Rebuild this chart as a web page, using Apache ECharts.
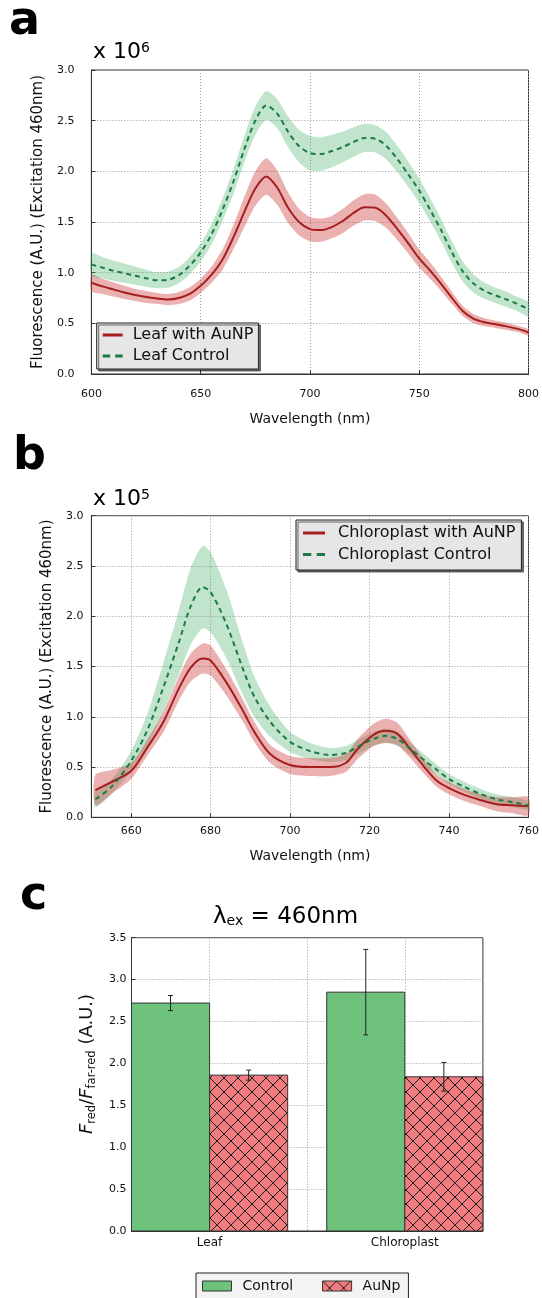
<!DOCTYPE html>
<html><head><meta charset="utf-8">
<script src="https://cdn.jsdelivr.net/npm/echarts@6/dist/echarts.min.js"></script>
<style>html,body{margin:0;padding:0;background:#fff}#c{width:542px;height:1298px}</style>
</head><body><div id="c"></div>
<script>
// ---------- Panel a: leaf spectra (x 10^6) ----------
const waveA = [600,605,610,615,620,625,630,635,640,645,650,655,660,665,670,675,680,685,690,695,700,705,710,715,720,725,730,735,740,745,750,755,760,765,770,775,780,785,790,795,800];
const leafAuNP = [0.90,0.865,0.835,0.805,0.78,0.76,0.745,0.735,0.75,0.79,0.87,0.98,1.13,1.35,1.60,1.83,1.95,1.84,1.64,1.50,1.43,1.42,1.45,1.51,1.59,1.645,1.64,1.56,1.43,1.29,1.14,1.02,0.89,0.75,0.62,0.545,0.51,0.49,0.47,0.445,0.41];
const leafAuNPErr = [0.08,0.075,0.07,0.065,0.06,0.06,0.055,0.055,0.06,0.065,0.07,0.08,0.10,0.12,0.15,0.17,0.18,0.17,0.15,0.13,0.12,0.115,0.11,0.12,0.125,0.13,0.13,0.12,0.11,0.10,0.09,0.08,0.07,0.06,0.05,0.045,0.04,0.035,0.035,0.03,0.03];
const leafCtrl = [1.08,1.05,1.02,0.995,0.97,0.945,0.925,0.93,0.975,1.07,1.20,1.38,1.62,1.90,2.22,2.50,2.65,2.57,2.39,2.25,2.18,2.17,2.20,2.24,2.29,2.33,2.32,2.25,2.12,1.97,1.81,1.62,1.42,1.20,1.01,0.89,0.82,0.775,0.735,0.69,0.64];
const leafCtrlErr = [0.11,0.105,0.10,0.095,0.09,0.085,0.08,0.08,0.08,0.085,0.09,0.10,0.11,0.12,0.13,0.14,0.14,0.145,0.15,0.16,0.17,0.165,0.16,0.15,0.145,0.14,0.135,0.135,0.13,0.125,0.12,0.115,0.11,0.105,0.10,0.09,0.08,0.075,0.075,0.07,0.07];

// ---------- Panel b: chloroplast spectra (x 10^5) ----------
const waveB = [651,655,660,664,668,672,675,678,680,684,688,691,695,700,705,710,714,717,721,724,727,730,734,737,740,744,748,752,756,760];
const chlAuNP = [0.27,0.35,0.46,0.69,0.94,1.28,1.49,1.58,1.56,1.34,1.07,0.85,0.63,0.52,0.50,0.50,0.54,0.68,0.82,0.86,0.83,0.69,0.49,0.36,0.29,0.22,0.17,0.13,0.12,0.11];
const chlAuNPErr = [0.15,0.12,0.08,0.08,0.10,0.12,0.14,0.15,0.15,0.13,0.11,0.10,0.09,0.09,0.09,0.09,0.09,0.10,0.11,0.12,0.11,0.09,0.07,0.06,0.06,0.06,0.06,0.07,0.08,0.09];
const chlCtrl = [0.18,0.30,0.56,0.86,1.28,1.74,2.10,2.29,2.24,1.92,1.49,1.20,0.95,0.75,0.66,0.62,0.64,0.70,0.78,0.81,0.78,0.69,0.56,0.47,0.38,0.30,0.23,0.18,0.15,0.12];
const chlCtrlErr = [0.08,0.07,0.10,0.16,0.24,0.32,0.38,0.41,0.40,0.34,0.26,0.20,0.15,0.10,0.08,0.07,0.07,0.07,0.07,0.07,0.07,0.06,0.06,0.05,0.05,0.05,0.05,0.05,0.05,0.04];

// ---------- Panel c: ratio bars ----------
const categories = ['Leaf', 'Chloroplast'];
const controlVals = [2.72, 2.85];
const controlErr = [0.09, 0.51];
const aunpVals = [1.86, 1.84];
const aunpErr = [0.06, 0.17];

const ticksB_x = [660, 680, 700, 720, 740, 760];
const ticksC_x = [0, 0.5, 1];

// ---------- styles ----------
const FONT = 'DejaVu Sans';
const RED = '#a61e1e', RED_FILL = 'rgba(205,60,60,0.40)';
const GREEN = '#1b7a45', GREEN_FILL = 'rgba(60,170,95,0.32)';
const BAR_GREEN = '#6fc27c', BAR_RED = '#f17c80';
const GRID_LINE = {show: true, lineStyle: {color: '#9a9a9a', type: [1, 2], width: 1}};
const ICON_SOLID = 'path://M0,0h20v3h-20z';
const ICON_DASH = 'path://M0,0h6v3h-6z M10,0h6v3h-6z';

function hatch() {
  const s = 14, c = document.createElement('canvas');
  c.width = s; c.height = s;
  const g = c.getContext('2d');
  g.fillStyle = BAR_RED; g.fillRect(0, 0, s, s);
  g.strokeStyle = '#1c1c1c'; g.lineWidth = 1;
  g.beginPath();
  g.moveTo(-1, -1); g.lineTo(s + 1, s + 1);
  g.moveTo(s + 1, -1); g.lineTo(-1, s + 1);
  g.stroke();
  return {image: c, repeat: 'repeat'};
}
const HATCH = hatch();

function pairs(xs, ys) { return xs.map((x, i) => [x, ys[i]]); }

function band(ax, xs, ys, es, color) {
  return {
    type: 'custom', xAxisIndex: ax, yAxisIndex: ax, silent: true, z: 1,
    data: xs.map((x, i) => [x, ys[i], es[i]]),
    renderItem: (params, api) => {
      if (params.dataIndex !== 0) return {type: 'group', children: []};
      const pts = [];
      for (let i = 0; i < xs.length; i++) pts.push(api.coord([xs[i], ys[i] + es[i]]));
      for (let i = xs.length - 1; i >= 0; i--) pts.push(api.coord([xs[i], ys[i] - es[i]]));
      return {type: 'polygon', shape: {points: pts, smooth: 0.25}, style: {fill: color}};
    }
  };
}

function line(ax, name, xs, ys, color, dashed) {
  return {
    type: 'line', name, xAxisIndex: ax, yAxisIndex: ax, data: pairs(xs, ys),
    showSymbol: false, symbol: 'none', smooth: 0.3, z: 3,
    lineStyle: {color, width: 2, type: dashed ? [5, 4] : 'solid'},
    itemStyle: {color}
  };
}

function bars(name, vals, errs, offset, fill) {
  return {
    type: 'custom', name, xAxisIndex: 2, yAxisIndex: 2, z: 2,
    data: vals.map((v, i) => [i, v, errs[i]]),
    encode: {x: 0, y: 1},
    itemStyle: {color: fill},
    renderItem: (params, api) => {
      const i = api.value(0), v = api.value(1), e = api.value(2);
      const c = i + offset;
      const tl = api.coord([c - 0.2, v]);
      const br = api.coord([c + 0.2, 0]);
      const et = api.coord([c, v + e]);
      const eb = api.coord([c, v - e]);
      const cap = 2.5;
      return {type: 'group', children: [
        {type: 'rect', shape: {x: tl[0], y: tl[1], width: br[0] - tl[0], height: br[1] - tl[1]},
         style: {fill: fill, stroke: '#333', lineWidth: 1}},
        {type: 'line', shape: {x1: et[0], y1: et[1], x2: eb[0], y2: eb[1]}, style: {stroke: '#222', lineWidth: 1}},
        {type: 'line', shape: {x1: et[0] - cap, y1: et[1], x2: et[0] + cap, y2: et[1]}, style: {stroke: '#222', lineWidth: 1}},
        {type: 'line', shape: {x1: eb[0] - cap, y1: eb[1], x2: eb[0] + cap, y2: eb[1]}, style: {stroke: '#222', lineWidth: 1}}
      ]};
    }
  };
}

const tickLabel = {color: '#111', fontFamily: FONT, fontSize: 11};
const AXIS_LINE = {show: true, onZero: false, lineStyle: {color: '#333'}};
function xAxisBase(gi, min, max, extra) {
  return Object.assign({
    type: 'value', gridIndex: gi, min, max,
    axisLine: AXIS_LINE,
    axisTick: {show: true, inside: true, length: 4, lineStyle: {color: '#333'}},
    splitLine: GRID_LINE,
    axisLabel: Object.assign({}, tickLabel),
    nameLocation: 'middle',
    nameTextStyle: {color: '#111', fontFamily: FONT, fontSize: 14}
  }, extra);
}
function yAxisBase(gi, max, margin, extra) {
  return Object.assign({
    type: 'value', gridIndex: gi, min: 0, max, interval: 0.5,
    axisLine: AXIS_LINE,
    axisTick: {show: true, inside: true, length: 4, lineStyle: {color: '#333'}},
    splitLine: GRID_LINE,
    axisLabel: Object.assign({}, tickLabel, {margin, formatter: v => v.toFixed(1)}),
    nameLocation: 'middle',
    nameTextStyle: {color: '#111', fontFamily: FONT, fontSize: 15}
  }, extra);
}

const legendBox = {
  orient: 'vertical', backgroundColor: '#e6e6e6', borderColor: '#222', borderWidth: 1,
  shadowColor: 'rgba(0,0,0,0.55)', shadowOffsetX: 2, shadowOffsetY: 2, shadowBlur: 0,
  itemGap: 5, selectedMode: false, symbolKeepAspect: false, itemHeight: 3
};
function lineLegendItem(name, color, dashed) {
  return {name, icon: dashed ? ICON_DASH : ICON_SOLID, itemStyle: {color, borderWidth: 0}};
}

const option = {
  animation: false,
  backgroundColor: '#fff',
  grid: [
    {left: 91.4, top: 70, width: 438.9, height: 304, show: true, borderColor: '#333', borderWidth: 1, backgroundColor: '#fff'},
    {left: 91.4, top: 515.7, width: 438.9, height: 301.6, show: true, borderColor: '#333', borderWidth: 1, backgroundColor: '#fff'},
    {left: 131.5, top: 937.7, width: 351.4, height: 293.3, show: true, borderColor: '#333', borderWidth: 1, backgroundColor: '#fff'}
  ],
  xAxis: [
    xAxisBase(0, 600, 800, {interval: 50, name: 'Wavelength (nm)', nameGap: 38,
      axisLabel: Object.assign({}, tickLabel, {margin: 15})}),
    xAxisBase(1, 650, 760, {name: 'Wavelength (nm)', nameGap: 32,
      axisTick: {show: true, inside: true, length: 4, lineStyle: {color: '#333'}, customValues: ticksB_x},
      axisLabel: Object.assign({}, tickLabel, {margin: 8, customValues: ticksB_x})}),
    xAxisBase(2, -0.4, 1.4, {
      axisTick: {show: false, customValues: ticksC_x},
      axisLabel: Object.assign({}, tickLabel, {fontSize: 12, margin: 6, customValues: ticksC_x,
        formatter: v => (Number.isInteger(v) ? categories[v] : '')})})
  ],
  yAxis: [
    yAxisBase(0, 3.0, 17, {name: 'Fluorescence (A.U.) (Excitation 460nm)', nameGap: 39}),
    yAxisBase(1, 3.0, 8, {name: 'Fluorescence (A.U.) (Excitation 460nm)', nameGap: 37}),
    yAxisBase(2, 3.5, 5, {})
  ],
  legend: [
    Object.assign({}, legendBox, {left: 96.7, top: 323, padding: [4, 5, 5, 6], itemWidth: 20,
      data: [lineLegendItem('Leaf with AuNP', RED, false), lineLegendItem('Leaf Control', GREEN, true)],
      textStyle: {color: '#111', fontFamily: FONT, fontSize: 16, lineHeight: 16, padding: [0, 0, 0, 5]}}),
    Object.assign({}, legendBox, {left: 296, top: 520, padding: [5, 6, 7.5, 7], itemWidth: 22, itemGap: 5.5,
      data: [lineLegendItem('Chloroplast with AuNP', RED, false), lineLegendItem('Chloroplast Control', GREEN, true)],
      textStyle: {color: '#111', fontFamily: FONT, fontSize: 16, lineHeight: 16, padding: [0, 0, 0, 8]}}),
    {orient: 'horizontal', left: 196, top: 1273, padding: [5, 8, 8, 6], itemWidth: 29, itemHeight: 10, itemGap: 29,
      backgroundColor: '#f3f3f3', borderColor: '#222', borderWidth: 1, selectedMode: false,
      textStyle: {color: '#111', fontFamily: FONT, fontSize: 14, lineHeight: 16, padding: [0, 0, 0, 6]},
      data: [
        {name: 'Control', icon: 'rect', itemStyle: {color: BAR_GREEN, borderColor: '#333', borderWidth: 1}},
        {name: 'AuNp', icon: 'rect', itemStyle: {color: HATCH, borderColor: '#333', borderWidth: 1}}
      ]}
  ],
  series: [
    band(0, waveA, leafCtrl, leafCtrlErr, GREEN_FILL),
    band(0, waveA, leafAuNP, leafAuNPErr, RED_FILL),
    line(0, 'Leaf with AuNP', waveA, leafAuNP, RED, false),
    line(0, 'Leaf Control', waveA, leafCtrl, GREEN, true),
    band(1, waveB, chlCtrl, chlCtrlErr, GREEN_FILL),
    band(1, waveB, chlAuNP, chlAuNPErr, RED_FILL),
    line(1, 'Chloroplast with AuNP', waveB, chlAuNP, RED, false),
    line(1, 'Chloroplast Control', waveB, chlCtrl, GREEN, true),
    bars('Control', controlVals, controlErr, -0.2, BAR_GREEN),
    bars('AuNp', aunpVals, aunpErr, 0.2, HATCH)
  ],
  graphic: [
    {type: 'text', x: 9, y: 22, style: {text: 'a', fontFamily: FONT, fontWeight: 'bold', fontSize: 46, fill: '#000', verticalAlign: 'middle'}},
    {type: 'text', x: 13, y: 457, style: {text: 'b', fontFamily: FONT, fontWeight: 'bold', fontSize: 46, fill: '#000', verticalAlign: 'middle'}},
    {type: 'text', x: 20, y: 897, style: {text: 'c', fontFamily: FONT, fontWeight: 'bold', fontSize: 46, fill: '#000', verticalAlign: 'middle'}},
    {type: 'text', x: 93, y: 52, style: {text: 'x 10{s|6}', fontFamily: FONT, fontSize: 22, fill: '#000', verticalAlign: 'middle',
      rich: {s: {fontFamily: FONT, fontSize: 14, verticalAlign: 'top', fill: '#000'}}}},
    {type: 'text', x: 93, y: 499, style: {text: 'x 10{s|5}', fontFamily: FONT, fontSize: 22, fill: '#000', verticalAlign: 'middle',
      rich: {s: {fontFamily: FONT, fontSize: 14, verticalAlign: 'top', fill: '#000'}}}},
    {type: 'text', x: 213, y: 917, style: {text: 'λ{s|ex} = 460nm', fontFamily: FONT, fontSize: 23, fill: '#000', verticalAlign: 'middle',
      rich: {s: {fontFamily: FONT, fontSize: 14, verticalAlign: 'bottom', fill: '#000'}}}},
    {type: 'text', x: 87, y: 1064, rotation: Math.PI / 2,
      style: {text: '{i|F}{s|red}{n|/}{i|F}{s|far-red}{n| (A.U.)}', align: 'center', verticalAlign: 'middle',
        rich: {
          i: {fontFamily: FONT, fontStyle: 'italic', fontSize: 18, fill: '#111', lineHeight: 22},
          n: {fontFamily: FONT, fontSize: 18, fill: '#111', lineHeight: 22},
          s: {fontFamily: FONT, fontSize: 11.5, fill: '#111', verticalAlign: 'bottom', lineHeight: 22}
        }}}
  ]
};

const chart = echarts.init(document.getElementById('c'), null, {renderer: 'canvas'});
chart.setOption(option);
</script></body></html>
